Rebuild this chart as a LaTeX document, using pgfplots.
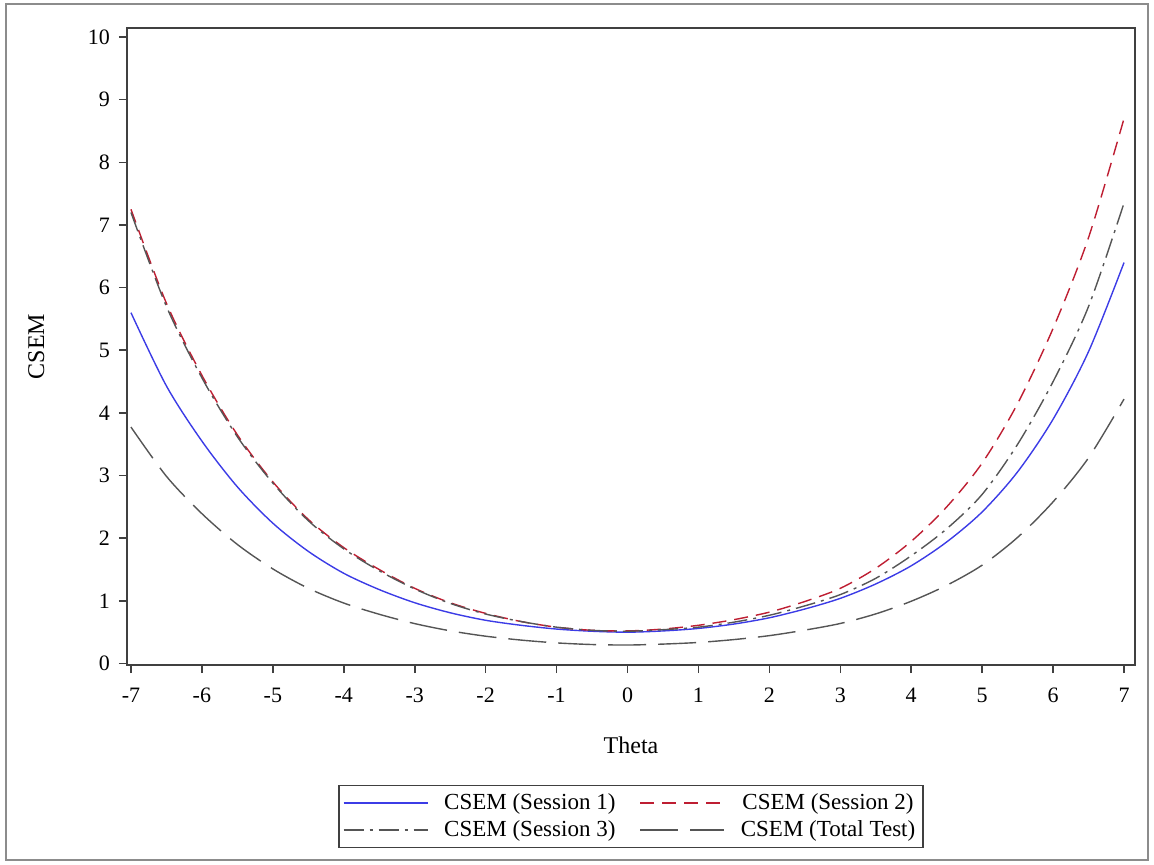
\documentclass[border=0pt]{standalone}
\usepackage{pgfplots}
\pgfplotsset{compat=1.18}
\usepackage{fontspec}
\setmainfont{Liberation Serif}
\definecolor{sblue}{RGB}{60,60,230}
\definecolor{sred}{RGB}{190,30,50}
\definecolor{sgray}{RGB}{85,85,85}
\begin{document}
\begin{tikzpicture}
\useasboundingbox (-63.5pt,-99.5pt) rectangle (513.5pt,332.5pt);
\draw[black!45, line width=0.9pt] (-60.5pt,-97.5pt) rectangle (510.5pt,330.5pt);
\begin{axis}[
  at={(0,0)}, anchor=south west,
  scale only axis, width=504pt, height=318.5pt,
  xmin=-7.056, xmax=7.155, ymin=-0.024, ymax=10.144,
  xtick={-7,-6,...,7}, ytick={0,1,...,10},
  tick align=outside, tick pos=left, major tick length=4pt,
  axis line style={black!75, line width=0.8pt},
  every tick/.style={black!75, line width=0.8pt},
  /pgf/number format/assume math mode=true,
  ticklabel style={font=\fontsize{11}{13}\selectfont},
  xticklabel style={yshift=-4pt},
  yticklabel style={xshift=-1pt},
  xlabel={Theta}, ylabel={CSEM},
  label style={font=\fontsize{12}{14}\selectfont},
  xlabel style={at={(axis description cs:0.5,-0.126)}, anchor=center},
  ylabel style={at={(axis description cs:-0.09,0.5)}, anchor=center},
  legend columns=2,
  legend style={at={(axis description cs:0.5,-0.188)}, anchor=north,
    draw=black!75, line width=0.8pt, font=\fontsize{11.5}{13.5}\selectfont,
    inner xsep=2pt, inner ysep=2pt, column sep=6pt,
    /tikz/every even column/.append style={column sep=10pt}},
  legend image code/.code={\draw[#1, line width=0.7pt] (0pt,0pt) -- (42pt,0pt);},
  every axis plot/.append style={line width=0.7pt},
]
\addplot[sblue, smooth] coordinates {
(-7,5.60) (-6.5,4.43) (-6,3.55) (-5.5,2.82) (-5,2.24) (-4.5,1.79) (-4,1.44)
(-3.5,1.18) (-3,0.97) (-2.5,0.81) (-2,0.69) (-1.5,0.61) (-1,0.55) (-0.5,0.515)
(0,0.50) (0.5,0.52) (1,0.56) (1.5,0.63) (2,0.73) (2.5,0.87) (3,1.04) (3.5,1.27)
(4,1.56) (4.5,1.94) (5,2.42) (5.5,3.06) (6,3.90) (6.5,4.98) (7,6.40)};
\addlegendentry{CSEM (Session 1)}
\addplot[sred, smooth, dash pattern=on 7pt off 4pt] coordinates {
(-7,7.25) (-6.5,5.75) (-6,4.60) (-5.5,3.65) (-5,2.90) (-4.5,2.30) (-4,1.85)
(-3.5,1.50) (-3,1.20) (-2.5,0.97) (-2,0.80) (-1.5,0.67) (-1,0.58) (-0.5,0.53)
(0,0.52) (0.5,0.55) (1,0.61) (1.5,0.70) (2,0.82) (2.5,0.99) (3,1.20) (3.5,1.52)
(4,1.95) (4.5,2.50) (5,3.20) (5.5,4.15) (6,5.35) (6.5,6.80) (7,8.70)};
\addlegendentry{CSEM (Session 2)}
\addplot[sgray, smooth, dash pattern=on 10pt off 3pt on 1.5pt off 3pt] coordinates {
(-7,7.20) (-6.5,5.70) (-6,4.56) (-5.5,3.62) (-5,2.88) (-4.5,2.28) (-4,1.83)
(-3.5,1.48) (-3,1.19) (-2.5,0.96) (-2,0.79) (-1.5,0.67) (-1,0.58) (-0.5,0.53)
(0,0.515) (0.5,0.54) (1,0.58) (1.5,0.66) (2,0.77) (2.5,0.92) (3,1.10) (3.5,1.36)
(4,1.72) (4.5,2.15) (5,2.70) (5.5,3.50) (6,4.50) (6.5,5.70) (7,7.35)};
\addlegendentry{CSEM (Session 3)}
\addplot[sgray, smooth, dash pattern=on 19pt off 6pt] coordinates {
(-7,3.774) (-6.5,2.988) (-6,2.392) (-5.5,1.900) (-5,1.510) (-4.5,1.201) (-4,0.965)
(-3.5,0.786) (-3,0.637) (-2.5,0.522) (-2,0.436) (-1.5,0.374) (-1,0.329) (-0.5,0.303)
(0,0.295) (0.5,0.310) (1,0.336) (1.5,0.382) (2,0.445) (2.5,0.533) (3,0.639) (3.5,0.792)
(4,0.994) (4.5,1.248) (5,1.570) (5.5,2.014) (6,2.581) (6.5,3.284) (7,4.221)};
\addlegendentry{CSEM (Total Test)}
\end{axis}
\end{tikzpicture}
\end{document}
